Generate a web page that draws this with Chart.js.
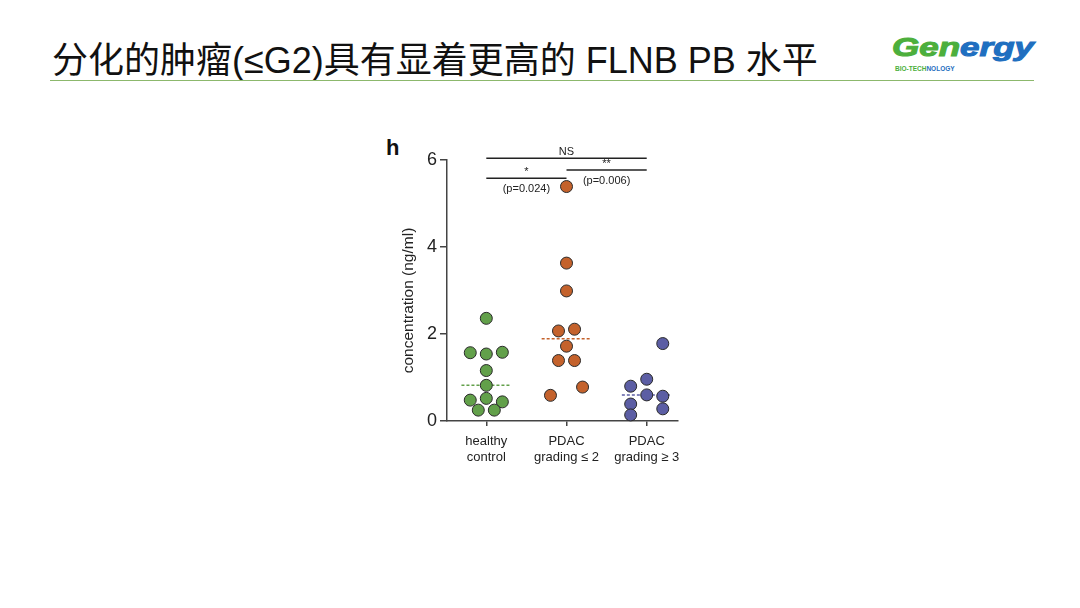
<!DOCTYPE html>
<html lang="zh">
<head>
  <meta charset="UTF-8">
  <title>FLNB PB 水平</title>
  <script src="https://cdn.jsdelivr.net/npm/chart.js"></script>
  <style>
    body {
      margin: 0;
      width: 1080px;
      height: 608px;
      background: #fff;
      position: relative;
      overflow: hidden;
      font-family: "Liberation Sans", Arial, sans-serif;
    }
    .title {
      position: absolute;
      left: 52px;
      top: 31px;
      font-family: "Liberation Sans", "Noto Sans CJK SC", sans-serif;
      font-size: 36px;
      color: #111;
      white-space: nowrap;
    }
    .rule {
      position: absolute;
      left: 50px;
      top: 80px;
      width: 984px;
      height: 1px;
      background: #8cb86c;
    }
    .logo {
      position: absolute;
      left: 892px;
      top: 32px;
      width: 150px;
      height: 40px;
    }
    .logo .word {
      display: inline-block;
      font-size: 25px;
      line-height: 30px;
      font-weight: bold;
      font-style: italic;
      -webkit-text-stroke: 1px currentColor;
      white-space: nowrap;
      transform: scaleX(1.4);
      transform-origin: left center;
    }
    .logo .g { color: #4caf3c; }
    .logo .b { color: #1f6fc0; }
    .logo small {
      position: absolute;
      left: 3px;
      top: 33px;
      font-size: 6.5px;
      line-height: 7px;
      font-weight: bold;
      white-space: nowrap;
    }
    .panel {
      position: absolute;
      left: 386px;
      top: 135px;
      font-size: 22px;
      font-weight: bold;
      color: #111;
    }
    .chart-box {
      position: absolute;
      left: 380px;
      top: 130px;
      width: 320px;
      height: 345px;
    }
  </style>
</head>
<body>
  <div class="title">分化的肿瘤(≤G2)具有显着更高的 FLNB PB 水平</div>
  <div class="rule"></div>
  <div class="logo">
    <span class="word"><span class="g">Gen</span><span class="b">ergy</span></span>
    <small><span class="g">BIO-TECH</span><span class="b">NOLOGY</span></small>
  </div>
  <div class="panel">h</div>

  <div class="chart-box">
    <canvas id="dotChart"></canvas>
  </div>

  <script>
    // groups, in x order
    const categories = [['healthy', 'control'], ['PDAC', 'grading ≤ 2'], ['PDAC', 'grading ≥ 3']];
    const yTitle = 'concentration (ng/ml)';

    // values, with the column each dot sits in (-1 left .. 1 right)
    const healthyValues = [2.36, 1.57, 1.54, 1.58, 1.16, 0.82, 0.48, 0.52, 0.44, 0.25, 0.25];
    const healthyCols   = [0, -1, 0, 1, 0, 0, -1, 0, 1, -0.5, 0.5];

    const lowGradeValues = [5.39, 3.63, 2.99, 2.07, 2.11, 1.72, 1.39, 1.39, 0.78, 0.59];
    const lowGradeCols   = [0, 0, 0, -0.5, 0.5, 0, -0.5, 0.5, 1, -1];

    const highGradeValues = [1.78, 0.96, 0.80, 0.60, 0.57, 0.39, 0.28, 0.14];
    const highGradeCols   = [1, 0, -1, 0, 1, -1, 1, -1];

    const medians = [0.82, 1.89, 0.60];

    const yTicks = [0, 2, 4, 6];

    // significance bars: group from, group to, height, mark, p-value
    const brackets = [
      { from: 1, to: 3, y: 6.04, mark: 'NS', note: '' },
      { from: 2, to: 3, y: 5.77, mark: '**', note: '(p=0.006)' },
      { from: 1, to: 2, y: 5.58, mark: '*', note: '(p=0.024)' }
    ];

    const colors = ['#62a04a', '#c4622c', '#5c5ea4'];
    const colStep = 0.2;
    const medianHalf = 0.31;
    const font = '"Liberation Sans", Arial, sans-serif';

    function dots(values, cols, group) {
      return values.map((v, i) => ({ x: group + cols[i] * colStep, y: v }));
    }

    const groups = [
      dots(healthyValues, healthyCols, 1),
      dots(lowGradeValues, lowGradeCols, 2),
      dots(highGradeValues, highGradeCols, 3)
    ];

    const datasets = [];
    groups.forEach((pts, g) => {
      datasets.push({
        type: 'scatter',
        data: pts,
        backgroundColor: colors[g],
        borderColor: '#2a2a2a',
        borderWidth: 1,
        pointRadius: 6,
        clip: false
      });
      datasets.push({
        type: 'line',
        data: [{ x: g + 1 - medianHalf, y: medians[g] }, { x: g + 1 + medianHalf, y: medians[g] }],
        borderColor: colors[g],
        borderWidth: 1.5,
        borderDash: [3, 2],
        pointRadius: 0,
        order: 5
      });
    });
    brackets.forEach(b => {
      datasets.push({
        type: 'line',
        data: [{ x: b.from, y: b.y }, { x: b.to, y: b.y }],
        borderColor: '#222',
        borderWidth: 1.5,
        pointRadius: 0,
        clip: false
      });
    });

    // bracket marks, p-values and the y title (sits a little below centre in the original)
    const extraText = {
      id: 'extraText',
      afterDatasetsDraw(chart) {
        const { ctx, chartArea, scales: { x, y } } = chart;
        ctx.save();
        ctx.fillStyle = '#222';
        ctx.textAlign = 'center';
        brackets.forEach(b => {
          const cx = x.getPixelForValue((b.from + b.to) / 2);
          const py = y.getPixelForValue(b.y);
          ctx.font = '11px ' + font;
          ctx.textBaseline = 'bottom';
          ctx.fillText(b.mark, cx, py - 1);
          if (b.note) {
            ctx.textBaseline = 'top';
            ctx.fillText(b.note, cx, py + 5);
          }
        });
        ctx.translate(chartArea.left - 38, (chartArea.top + chartArea.bottom) / 2 + 10);
        ctx.rotate(-Math.PI / 2);
        ctx.textBaseline = 'middle';
        ctx.font = '15.5px ' + font;
        ctx.fillText(yTitle, 0, 0);
        ctx.restore();
      }
    };

    new Chart(document.getElementById('dotChart'), {
      data: { datasets },
      options: {
        responsive: true,
        maintainAspectRatio: false,
        animation: false,
        layout: { padding: { top: 30, right: 22, left: 0, bottom: 0 } },
        plugins: {
          legend: { display: false },
          tooltip: { enabled: false }
        },
        scales: {
          x: {
            type: 'linear',
            min: 0.51,
            max: 3.39,
            afterBuildTicks: axis => { axis.ticks = [1, 2, 3].map(v => ({ value: v })); },
            afterFit: axis => { axis.height = 54; },
            ticks: {
              color: '#222',
              font: { size: 13, family: font, lineHeight: 1.25 },
              padding: 7,
              maxRotation: 0,
              callback: v => categories[v - 1]
            },
            grid: { drawOnChartArea: false, drawTicks: true, tickLength: 5, color: '#444', lineWidth: 1.5 },
            border: { color: '#444', width: 1.5 }
          },
          y: {
            min: 0,
            max: 6,
            afterBuildTicks: axis => { axis.ticks = yTicks.map(v => ({ value: v })); },
            afterFit: axis => { axis.width = 67; },
            ticks: {
              color: '#222',
              font: { size: 18, family: font },
              padding: 3
            },
            grid: { drawOnChartArea: false, drawTicks: true, tickLength: 7, color: '#444', lineWidth: 1.5 },
            border: { color: '#444', width: 1.5 }
          }
        }
      },
      plugins: [extraText]
    });
  </script>
</body>
</html>
